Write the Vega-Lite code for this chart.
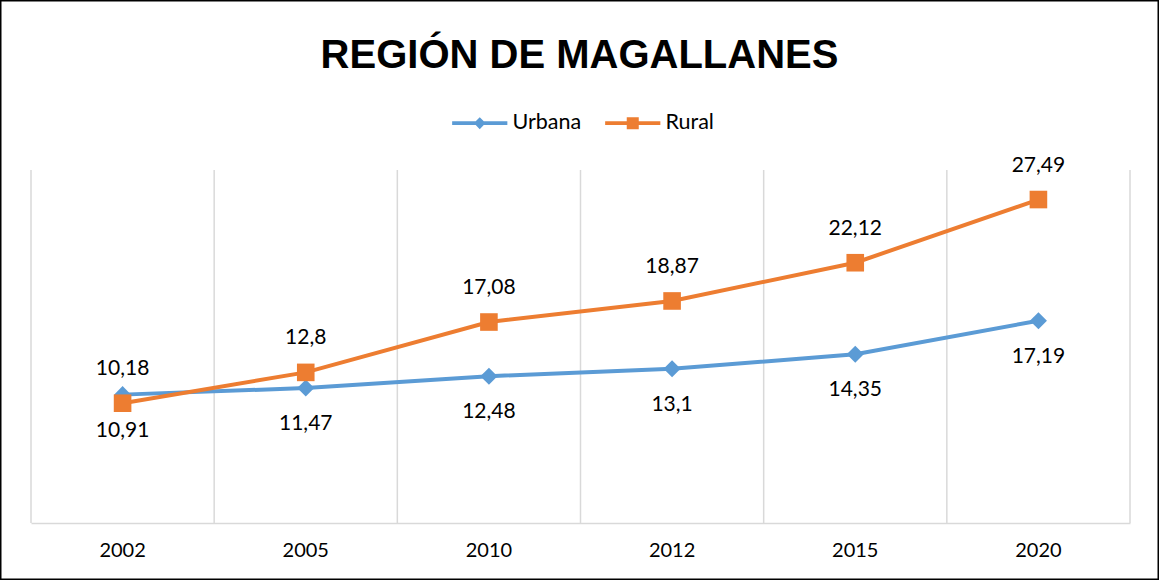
{
  "$schema": "https://vega.github.io/schema/vega-lite/v6.json",
  "width": 1159,
  "height": 580,
  "autosize": "none",
  "padding": 0,
  "background": "white",
  "config": {
    "view": {"stroke": "black", "strokeWidth": 3},
    "locale": {"number": {"decimal": ",", "thousands": ".", "grouping": [3], "currency": ["$", ""]}}
  },
  "title": {
    "text": "REGIÓN DE MAGALLANES",
    "font": "Liberation Sans",
    "fontSize": 40,
    "fontWeight": "bold",
    "color": "black",
    "anchor": "middle",
    "offset": -108,
    "baseline": "alphabetic"
  },
  "data": {
    "values": [
      {"year": "2002", "serie": "Urbana", "value": 10.91},
      {"year": "2005", "serie": "Urbana", "value": 11.47},
      {"year": "2010", "serie": "Urbana", "value": 12.48},
      {"year": "2012", "serie": "Urbana", "value": 13.1},
      {"year": "2015", "serie": "Urbana", "value": 14.35},
      {"year": "2020", "serie": "Urbana", "value": 17.19},
      {"year": "2002", "serie": "Rural", "value": 10.18},
      {"year": "2005", "serie": "Rural", "value": 12.8},
      {"year": "2010", "serie": "Rural", "value": 17.08},
      {"year": "2012", "serie": "Rural", "value": 18.87},
      {"year": "2015", "serie": "Rural", "value": 22.12},
      {"year": "2020", "serie": "Rural", "value": 27.49}
    ]
  },
  "encoding": {
    "x": {
      "field": "year",
      "type": "ordinal",
      "sort": null,
      "scale": {"type": "band", "range": [31, 1130], "paddingInner": 0, "paddingOuter": 0},
      "axis": {
        "title": null,
        "grid": false,
        "ticks": false,
        "domain": true,
        "domainColor": "#D9D9D9",
        "domainWidth": 1.5,
        "offset": -57,
        "labelFont": "Lato",
        "labelFontSize": 20,
        "labelColor": "black",
        "labelBaseline": "middle",
        "labelPadding": 27,
        "labelAngle": 0
      }
    },
    "y": {
      "field": "value",
      "type": "quantitative",
      "scale": {"domain": [0, 30], "range": [523, 170]},
      "axis": null
    }
  },
  "layer": [
    {
      "transform": [{"filter": "datum.serie === 'Urbana'"}],
      "mark": {"type": "rule", "color": "#D9D9D9", "strokeWidth": 1.5},
      "encoding": {
        "x": {"field": "year", "type": "ordinal", "sort": null, "bandPosition": 0},
        "y": {"datum": 0},
        "y2": {"datum": 30}
      }
    },
    {
      "transform": [{"filter": "datum.serie === 'Urbana' && datum.year === '2020'"}],
      "mark": {"type": "rule", "color": "#D9D9D9", "strokeWidth": 1.5},
      "encoding": {
        "x": {"field": "year", "type": "ordinal", "sort": null, "bandPosition": 1},
        "y": {"datum": 0},
        "y2": {"datum": 30}
      }
    },
    {
      "mark": {"type": "line", "strokeWidth": 4},
      "encoding": {
        "color": {
          "field": "serie",
          "type": "nominal",
          "sort": null,
          "scale": {"domain": ["Urbana", "Rural"], "range": ["#5B9BD5", "#ED7D31"]},
          "legend": {
            "title": null,
            "orient": "none",
            "direction": "horizontal",
            "legendX": 469,
            "legendY": 112,
            "padding": 0,
            "symbolSize": 144,
            "labelFont": "Lato",
            "labelFontSize": 21.5,
            "labelColor": "black",
            "labelOffset": 22,
            "columnPadding": 23,
            "encode": {
              "symbols": {
                "update": {
                  "shape": {"signal": "datum.value === 'Urbana' ? 'M-4.6,-0.33L-0.67,-0.33L0,-1L0.67,-0.33L4.6,-0.33L4.6,0.33L0.67,0.33L0,1L-0.67,0.33L-4.6,0.33Z' : 'M-4.6,-0.33L-1,-0.33L-1,-1L1,-1L1,-0.33L4.6,-0.33L4.6,0.33L1,0.33L1,1L-1,1L-1,0.33L-4.6,0.33Z'"},
                  "fill": {"scale": "color", "field": "value"},
                  "stroke": {"value": "transparent"},
                  "strokeWidth": {"value": 0},
                  "opacity": {"value": 1},
                  "fillOpacity": {"value": 1}
                }
              }
            }
          }
        }
      }
    },
    {
      "transform": [{"filter": "datum.serie === 'Urbana'"}],
      "mark": {"type": "point", "shape": "diamond", "filled": true, "opacity": 1, "size": 290, "color": "#5B9BD5"}
    },
    {
      "transform": [{"filter": "datum.serie === 'Rural'"}],
      "mark": {"type": "point", "shape": "square", "filled": true, "opacity": 1, "size": 310, "color": "#ED7D31"}
    },
    {
      "transform": [{"filter": "datum.serie === 'Rural'"}],
      "mark": {"type": "text", "dy": -34, "font": "Lato", "fontSize": 21, "baseline": "middle", "color": "black"},
      "encoding": {"text": {"field": "value", "type": "quantitative"}}
    },
    {
      "transform": [{"filter": "datum.serie === 'Urbana'"}],
      "mark": {"type": "text", "dy": 36, "font": "Lato", "fontSize": 21, "baseline": "middle", "color": "black"},
      "encoding": {"text": {"field": "value", "type": "quantitative"}}
    }
  ]
}
